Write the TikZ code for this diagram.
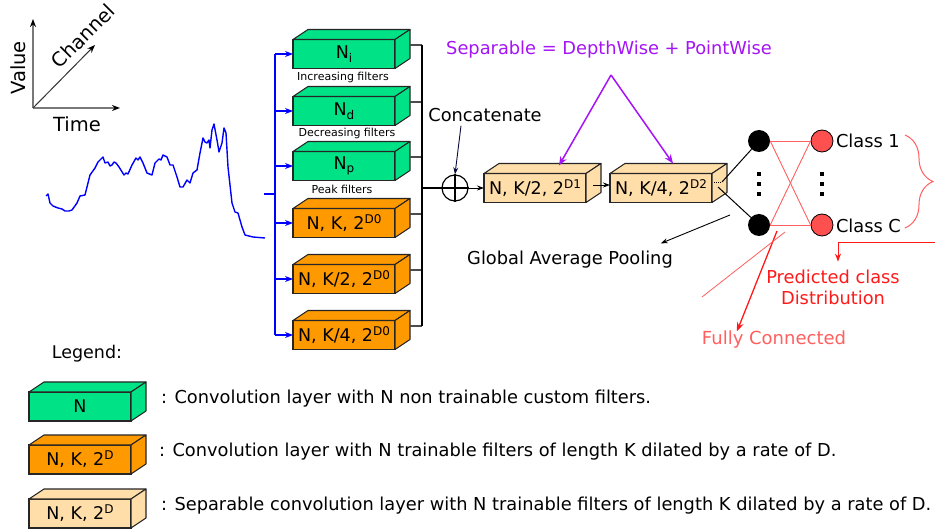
\documentclass[tikz,border=0pt]{standalone}
\usepackage{fontspec}
\setmainfont{DejaVu Sans}
\usetikzlibrary{arrows.meta,calc,decorations.pathreplacing}
\definecolor{cgreen}{RGB}{0,226,134}
\definecolor{corange}{RGB}{255,153,0}
\definecolor{cbeige}{RGB}{255,222,170}
\definecolor{cpurple}{RGB}{165,20,245}
\definecolor{cred}{RGB}{255,25,25}
\definecolor{lred}{RGB}{255,95,95}
\definecolor{cnavy}{RGB}{10,10,60}
\definecolor{axgray}{RGB}{120,120,120}
\definecolor{outred}{RGB}{255,80,80}
\newcommand\fsBig{\fontsize{17.8}{21}\selectfont}
\newcommand\fsBox{\fontsize{17.5}{21}\selectfont}
\newcommand\fsSmall{\fontsize{11}{12}\selectfont}
\newcommand\fsAxis{\fontsize{19.5}{22}\selectfont}
\newcommand\fsFC{\fontsize{18}{21}\selectfont}
\newcommand\supx[1]{\raisebox{6pt}{\fontsize{12}{12}\selectfont #1}}
\newcommand\subx[1]{\raisebox{-3.5pt}{\fontsize{12}{12}\selectfont #1}}
\tikzset{
  cubefront/.style={draw=black!85, line width=1.1pt, minimum width=102pt, minimum height=29pt, inner sep=0pt, outer sep=0pt, font=\fsBox},
  cubeline/.style={draw=black!85, line width=1.1pt, line join=round},
  txt/.style={inner sep=0pt, outer sep=0pt, font=\fsBig},
  bluearrow/.style={draw=blue, line width=1.2pt, -{Stealth[length=8pt,width=6pt]}},
  blk/.style={line width=0.9pt, -{Stealth[length=7pt,width=5pt]}},
  graylink/.style={draw=black!70, line width=1.2pt},
}
\newcommand{\mycube}[5]{%
  \node[cubefront, fill=#4] (#1) at (#2,#3) {#5};
  \filldraw[fill=#4, cubeline] (#1.north west) -- ([shift={(15,-10)}]#1.north west) -- ([shift={(15,-10)}]#1.north east) -- (#1.north east) -- cycle;
  \filldraw[fill=#4, cubeline] (#1.north east) -- ([shift={(15,-10)}]#1.north east) -- ([shift={(15,-10)}]#1.south east) -- (#1.south east) -- cycle;
}
\begin{document}
\begin{tikzpicture}[x=1pt,y=-1pt]
\useasboundingbox[fill=white] (0,0) rectangle (935,529);

% axes
\coordinate (ax0) at (33,108);
\coordinate (axV) at (33,19);
\coordinate (axT) at (120,108);
\coordinate (axC) at (95,45);
\draw[axgray, line width=1.5pt, -{Stealth[length=8pt,width=6pt,color=black]}] (ax0) -- (axV);
\draw[axgray, line width=1.5pt, -{Stealth[length=8pt,width=6pt,color=black]}] (ax0) -- (axT);
\draw[black!80, line width=1pt, -{Stealth[length=8pt,width=6pt,color=black]}] (ax0) -- (axC);
\node[txt, font=\fsAxis, rotate=90] (lvalue) at (18,68) {Value};
\node[txt, font=\fsAxis, rotate=45] (lchan) at (83,36) {Channel};
\node[txt, font=\fsAxis] (ltime) at (77,124) {Time};

% waveform
\draw[blue, line width=1.4pt, line join=round] plot coordinates {(46,196) (48,194) (50,203) (53,206) (58,208) (62,209) (65,211) (69,211) (72,210) (77,203) (80,196) (85,195) (88,183) (90,175) (95,168) (98,162) (101,159) (103,157) (105,163) (108,162) (110,166) (112,165) (114,162) (116,163) (119,167) (124,175) (126,173) (128,174) (132,165) (136,158) (138,160) (140,157) (143,163) (147,173) (152,175) (155,163) (159,159) (161,160) (163,155) (167,157) (170,165) (173,165) (177,177) (180,187) (183,187) (187,180) (190,183) (193,173) (197,170) (200,153) (203,138) (205,142) (207,143) (209,140) (210,148) (212,130) (214,124) (217,140) (219,152) (222,143) (224,128) (226,133) (228,167) (232,203) (235,212) (238,213) (242,227) (245,235) (253,237) (265,238)};

% first stage cubes
\mycube{g1}{344}{54}{cgreen}{N\subx{i}}
\mycube{g2}{344}{111}{cgreen}{N\subx{d}}
\mycube{g3}{344}{166}{cgreen}{N\subx{p}}
\mycube{k1}{344}{223}{corange}{N, K, 2\supx{D0}}
\mycube{k2}{344}{279}{corange}{N, K/2, 2\supx{D0}}
\mycube{k3}{344}{335}{corange}{N, K/4, 2\supx{D0}}
\node[txt, font=\fsSmall] (li) at (343,77) {Increasing filters};
\node[txt, font=\fsSmall] (ld) at (347,133) {Decreasing filters};
\node[txt, font=\fsSmall] (lp) at (342,189) {Peak filters};

% left blue bus
\coordinate (busL) at (275,0);
\coordinate (sig) at (264,194);
\draw[blue, line width=1.2pt] (g1.west -| busL) -- (k3.west -| busL);
\draw[blue, line width=1.2pt] (sig) -- (sig -| busL);
\foreach \n in {g1,g2,g3,k1,k2,k3}{
  \draw[bluearrow] (\n.west -| busL) -- (\n.west);
}

% right bus
\coordinate (busR) at (422,0);
\foreach \n in {g1,g2,g3,k1,k2,k3}{
  \draw[graylink] ($(\n.east)+(15,-9)$) -- ($(\n.east -| busR)+(0,-9)$);
}
\draw[line width=1.2pt] ($(g1.east -| busR)+(0,-9)$) -- ($(k3.east -| busR)+(0,-9)$);

% concatenate
\node[circle, draw, line width=1.2pt, minimum size=26pt, inner sep=0pt] (cat) at (455,188) {};
\draw[line width=1.2pt] (cat.north) -- (cat.south);
\draw[line width=1.2pt] (cat.west) -- (cat.east);
\draw[line width=1.2pt] (cat.west -| busR) -- (cat.west);
\node[txt] (concat) at (485,115) {Concatenate};
\draw[blk, cnavy] ($(concat.south)+(-24,4)$) -- (cat.north);

% separable cubes
\mycube{d1}{535}{188}{cbeige}{N, K/2, 2\supx{D1}}
\mycube{d2}{661}{188}{cbeige}{N, K/4, 2\supx{D2}}
\draw[blk] (cat.east) -- (d1.west);
\draw[blk] ($(d1.east)+(7,-3)$) -- ($(d2.west)+(0,-3)$);

\node[txt, text=cpurple] (sep) at (609,50) {Separable = DepthWise + PointWise};
\coordinate (apex) at (611,75);
\draw[cpurple, line width=1.5pt, -{Stealth[length=9pt,width=7pt]}] (apex) -- ($(d1.north)+(24,-8)$);
\draw[cpurple, line width=1.5pt, -{Stealth[length=9pt,width=7pt]}] (apex) -- ($(d2.north)+(12,-10)$);

% dense part
\node[circle, fill=black, minimum size=22pt, inner sep=0pt] (h1) at (759,141) {};
\node[circle, fill=black, minimum size=22pt, inner sep=0pt] (h2) at (759,225) {};
\node[circle, draw=black, fill=outred, line width=0.8pt, minimum size=22pt, inner sep=0pt] (r1) at (822,141) {};
\node[circle, draw=black, fill=outred, line width=0.8pt, minimum size=22pt, inner sep=0pt] (r2) at (822,225) {};
\draw[line width=1pt] ($(d2.east)+(10,-6)$) -- (h1);
\draw[line width=1pt] ($(d2.east)+(6,-1)$) -- (h2);
\draw[line width=1pt, densely dotted] ($(d2.east)+(2,-5)$) -- ($(d2.east)+(10,-5)$);
\foreach \yy in {174,184,194}{
  \fill (757,\yy-2) rectangle (761,\yy+2);
  \fill (820,\yy-2) rectangle (824,\yy+2);
}
\draw[lred, line width=0.9pt] (h1.east) -- (r1.west);
\draw[lred, line width=0.9pt] (h1.east) -- (r2.west);
\draw[lred, line width=0.9pt] (h2.east) -- (r1.west);
\draw[lred, line width=0.9pt] (h2.east) -- (r2.west);
\node[txt, anchor=west] (c1) at (836,141) {Class 1};
\node[txt, anchor=west] (cC) at (836,226) {Class C};
\draw[lred, line width=1pt, decorate, decoration={brace, amplitude=28pt}] (905,135) -- (905,228);

% global average pooling
\node[txt] (gap) at (570,260) {Global Average Pooling};
\coordinate (gapsrc) at (730,215);
\draw[blk] (gapsrc) -- ($(gap.north east)+(-12,-8)$);

% predicted
\node[txt, text=cred, align=center] (pred) at (833,287) {Predicted class\\Distribution};
\coordinate (predsrc) at (935,243);
\draw[cred, line width=1pt, -{Stealth[length=8pt,width=6pt]}] (predsrc) -| ($(pred.north)+(5,-8)$);

% fully connected
\node[txt, font=\fsFC, text=lred] (fc) at (774,340) {Fully Connected};
\coordinate (fcsrc) at (777,231);
\draw[cred, line width=1.3pt, -{Stealth[length=9pt,width=7pt]}] (fcsrc) -- ($(fc.north west)+(35,0)$);
\coordinate (fla) at (785,232);
\coordinate (flb) at (702,297);
\draw[lred, line width=0.8pt] (fla) -- (flb);

% legend
\node[txt, font=\fontsize{17.5}{20}\selectfont] (leg) at (87,354) {Legend:};
\mycube{lg}{80}{406.5}{cgreen}{N}
\mycube{lo}{80}{459.5}{corange}{N, K, 2\supx{D}}
\mycube{lb}{80}{513.5}{cbeige}{N, K, 2\supx{D}}
\node[txt, anchor=west] (t1) at (161,399) {: Convolution layer with N non trainable custom filters.};
\node[txt, anchor=west] (t2) at (159,452) {: Convolution layer with N trainable filters of length K dilated by a rate of D.};
\node[txt, anchor=west] (t3) at (161,506) {: Separable convolution layer with N trainable filters of length K dilated by a rate of D.};
\end{tikzpicture}
\end{document}
